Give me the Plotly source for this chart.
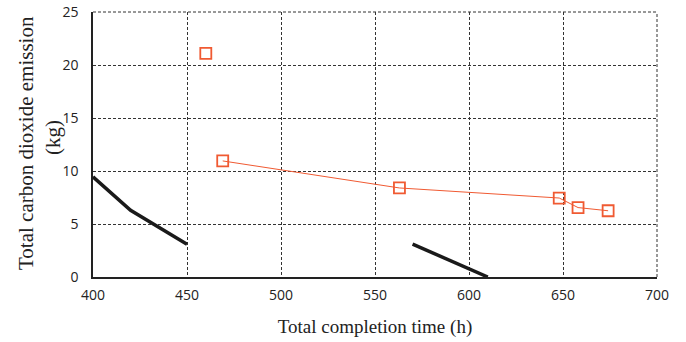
import plotly.graph_objects as go

black1_x = [400, 420, 450]
black1_y = [9.45, 6.3, 3.1]
black2_x = [570, 610]
black2_y = [3.1, 0.0]
red_iso_x = [460]
red_iso_y = [21.1]
red_x = [469, 563, 648, 658, 674]
red_y = [10.95, 8.4, 7.45, 6.55, 6.25]

x_ticks = [400, 450, 500, 550, 600, 650, 700]
y_ticks = [0, 5, 10, 15, 20, 25]

x_title = "Total completion time (h)"
y_title_lines = ["Total carbon dioxide emission", "(kg)"]

RED = "#F05A32"
GRID = "#333333"
SERIF = "Liberation Serif, Times New Roman, serif"
fig = go.Figure()
fig.add_trace(go.Scatter(x=black1_x, y=black1_y, mode="lines",
                         line=dict(color="#1a1a1a", width=3.5)))
fig.add_trace(go.Scatter(x=black2_x, y=black2_y, mode="lines",
                         line=dict(color="#1a1a1a", width=3.5)))
fig.add_trace(go.Scatter(x=red_x, y=red_y, mode="lines+markers",
                         line=dict(color=RED, width=1),
                         marker=dict(symbol="square-open", size=11, color=RED,
                                     line=dict(width=1.8, color=RED))))
fig.add_trace(go.Scatter(x=red_iso_x, y=red_iso_y, mode="markers",
                         marker=dict(symbol="square-open", size=11, color=RED,
                                     line=dict(width=1.8, color=RED))))

# dashed top and right borders (matching grid)
fig.add_shape(type="line", xref="paper", yref="paper", x0=0, x1=1, y0=1, y1=1,
              line=dict(color=GRID, width=1, dash="3px,2px"), layer="below")
fig.add_shape(type="line", xref="paper", yref="paper", x0=1, x1=1, y0=0, y1=1,
              line=dict(color=GRID, width=1, dash="3px,2px"), layer="below")

# y-axis title as two rotated lines
fig.add_annotation(text=y_title_lines[0], xref="paper", yref="paper",
                   x=(26 - 93) / 564, y=(277 - 143) / 265, xanchor="center", yanchor="middle",
                   textangle=-90, showarrow=False,
                   font=dict(family=SERIF, size=21, color="#222"))
fig.add_annotation(text=y_title_lines[1], xref="paper", yref="paper",
                   x=(53 - 93) / 564, y=(277 - 138) / 265, xanchor="center", yanchor="middle",
                   textangle=-90, showarrow=False,
                   font=dict(family=SERIF, size=21, color="#222"))

fig.update_layout(
    width=686, height=342,
    margin=dict(l=93, r=29, t=12, b=65, autoexpand=False),
    paper_bgcolor="white", plot_bgcolor="white",
    showlegend=False,
    font=dict(family="Open Sans, DejaVu Sans", size=14, color="#222"),
)
fig.update_xaxes(range=[400, 700], tickvals=x_ticks, showgrid=True,
                 gridcolor=GRID, griddash="3px,2px", gridwidth=1,
                 showline=True, linecolor="#222", linewidth=1.5,
                 zeroline=False, ticks="outside", ticklen=4, tickcolor="rgba(0,0,0,0)",
                 automargin=False,
                 title=dict(text=x_title, standoff=17,
                            font=dict(family=SERIF, size=19, color="#222")))
fig.update_yaxes(range=[0, 25], tickvals=y_ticks, showgrid=True,
                 gridcolor=GRID, griddash="3px,2px", gridwidth=1,
                 showline=True, linecolor="#222", linewidth=1.5,
                 zeroline=False, ticks="outside", ticklen=10, tickcolor="rgba(0,0,0,0)",
                 automargin=False)

fig.write_html("out.html", config={"displayModeBar": False},
               post_script="document.body.style.margin='0';")
